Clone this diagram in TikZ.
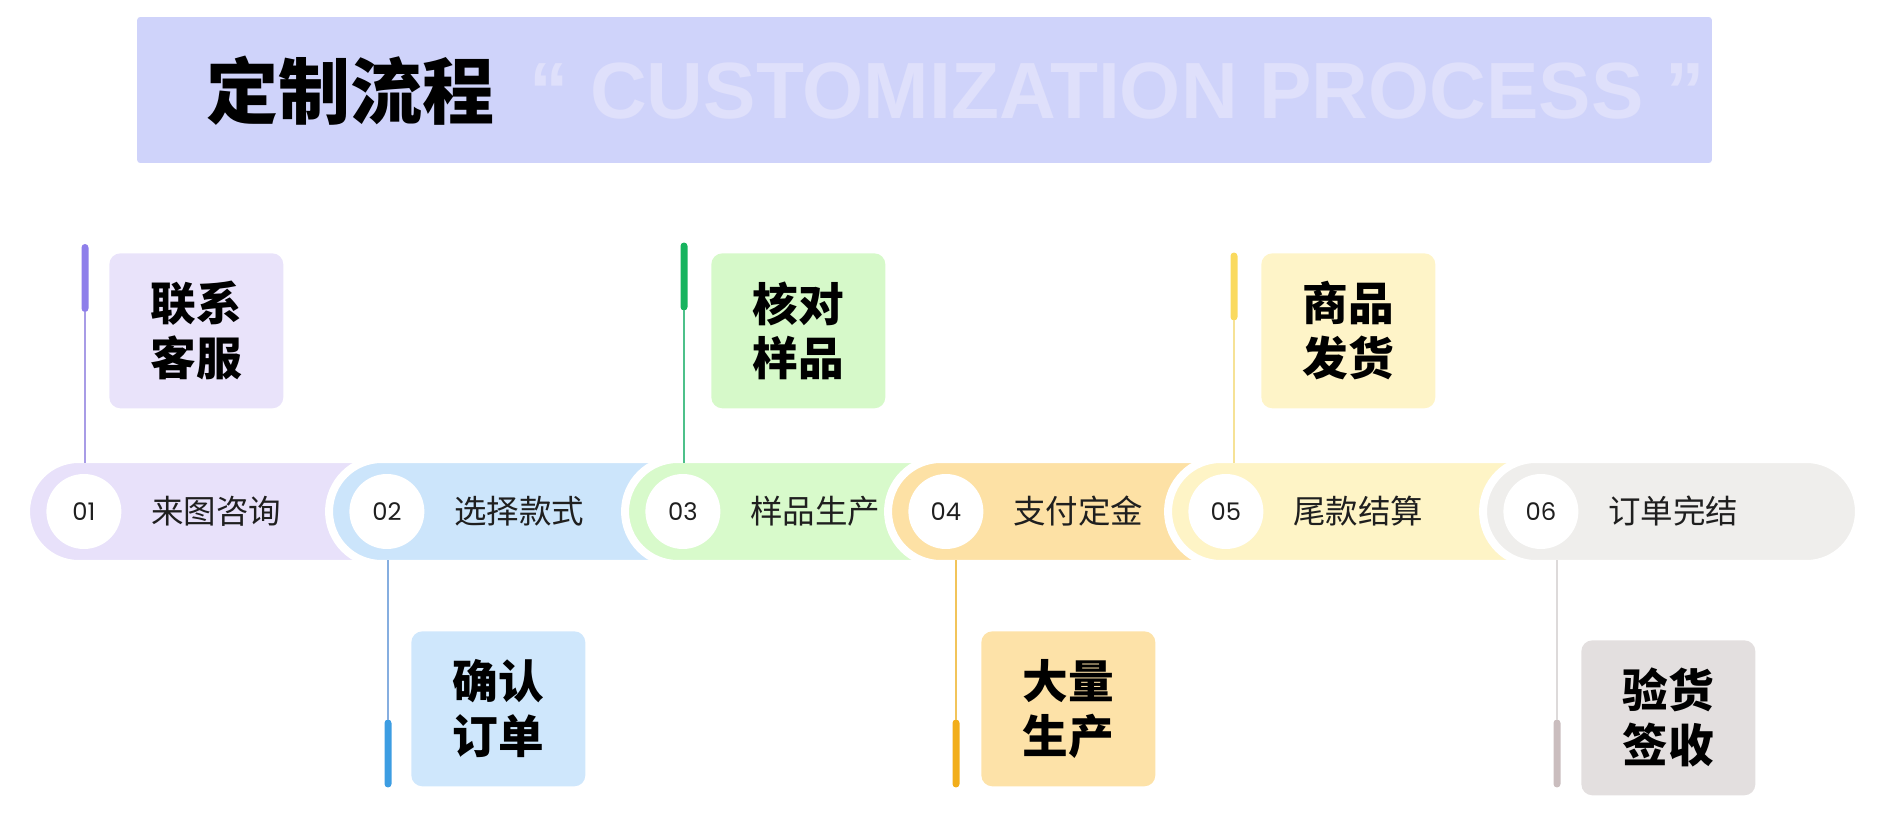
\documentclass[tikz,border=0pt]{standalone}
\usepackage{fontspec}
\setmainfont{Liberation Sans}
\newfontfamily\cjk{Noto Sans CJK SC}
\newfontfamily\numfont{Poppins}
\usetikzlibrary{positioning}

\definecolor{headbg}{HTML}{CFD3FA}
\definecolor{headtxt}{HTML}{DFE0FB}
\definecolor{ink}{HTML}{1F1F1F}
\definecolor{pillA}{HTML}{E8E1FA}
\definecolor{pillB}{HTML}{CCE5FB}
\definecolor{pillC}{HTML}{D8FACB}
\definecolor{pillD}{HTML}{FDE1A5}
\definecolor{pillE}{HTML}{FEF4C6}
\definecolor{pillF}{HTML}{EFEEEC}
\definecolor{cardA}{HTML}{E9E3FA}
\definecolor{cardB}{HTML}{CFE7FC}
\definecolor{cardC}{HTML}{D6F9C9}
\definecolor{cardD}{HTML}{FDE2A8}
\definecolor{cardE}{HTML}{FEF4C8}
\definecolor{cardF}{HTML}{E3DFDF}
\definecolor{barA}{HTML}{8E7EEA}
\definecolor{barB}{HTML}{3D9DE2}
\definecolor{barC}{HTML}{17B35E}
\definecolor{barD}{HTML}{F2AE1A}
\definecolor{barE}{HTML}{FADA5E}
\definecolor{barF}{HTML}{CABDBE}
\definecolor{lineA}{HTML}{A89CE6}
\definecolor{lineB}{HTML}{86AEE0}
\definecolor{lineC}{HTML}{4DC08A}
\definecolor{lineD}{HTML}{F2C45A}
\definecolor{lineE}{HTML}{F6E296}
\definecolor{lineF}{HTML}{DDDADA}

\tikzset{
  header/.style={rectangle, rounded corners=0.06cm, fill=headbg, minimum width=31.5cm, minimum height=2.92cm},
  pill/.style={rectangle, rounded corners=1.05cm, minimum height=2.1cm, draw=white, line width=0.16cm, outer sep=0pt, inner sep=0pt},
  numdot/.style={circle, fill=white, minimum size=1.5cm, inner sep=0pt, text=ink, font=\numfont\fontsize{13.8}{15}\selectfont},
  steplabel/.style={inner sep=0pt, text=ink, font=\cjk\fontsize{18.5}{20}\selectfont},
  card/.style={rectangle, rounded corners=0.22cm, minimum width=3.48cm, minimum height=3.1cm, anchor=north west, align=center, inner sep=0pt, text=black, font=\cjk\bfseries\fontsize{26}{31.2}\selectfont},
  bar/.style={rectangle, rounded corners=0.07cm, minimum width=0.14cm, minimum height=1.36cm, inner sep=0pt, outer sep=0pt},
  tick/.style={line width=0.04cm, shorten >=-0.08cm},
}

\begin{document}
\begin{tikzpicture}[x=0.02cm, y=-0.02cm]
  \useasboundingbox (0,0) rectangle (1883,827);

  % header band
  \node[header] (head) at (924.5,90) {};
  \node[anchor=west, inner sep=0pt, font=\cjk\bfseries\fontsize{41}{44}\selectfont] (title) at (206,91) {定制流程};
  \node[right=0.68cm of title, inner sep=0pt, text=headtxt, font=\bfseries\fontsize{45.4}{48}\selectfont] (eng)
    {\scalebox{0.985}[1]{“ CUSTOMIZATION PROCESS ”}};

  % the six steps
  \node[pill, fill=pillA, minimum width=7.94cm] (p1) at (224.5,511.5) {};
  \node[pill, fill=pillB, minimum width=7.8cm]  (p2) at (524,511.5) {};
  \node[pill, fill=pillC, minimum width=7.14cm] (p3) at (803.5,511.5) {};
  \node[pill, fill=pillD, minimum width=7.48cm] (p4) at (1075,511.5) {};
  \node[pill, fill=pillE, minimum width=8.18cm] (p5) at (1372.5,511.5) {};
  \node[pill, fill=pillF, minimum width=7.52cm] (p6) at (1671,511.5) {};

  \node[numdot, right=0.4cm of p1.west] (n1) {01};
  \node[numdot, right=0.4cm of p2.west] (n2) {02};
  \node[numdot, right=0.4cm of p3.west] (n3) {03};
  \node[numdot, right=0.4cm of p4.west] (n4) {04};
  \node[numdot, right=0.4cm of p5.west] (n5) {05};
  \node[numdot, right=0.4cm of p6.west] (n6) {06};

  \node[steplabel, right=0.58cm of n1] (s1) {来图咨询};
  \node[steplabel, right=0.58cm of n2] (s2) {选择款式};
  \node[steplabel, right=0.58cm of n3] (s3) {样品生产};
  \node[steplabel, right=0.58cm of n4] (s4) {支付定金};
  \node[steplabel, right=0.58cm of n5] (s5) {尾款结算};
  \node[steplabel, right=0.58cm of n6] (s6) {订单完结};

  % cards above and below
  \node[card, fill=cardA] (k1) at (109,253) {联系\\客服};
  \node[card, fill=cardB] (k2) at (411,631) {确认\\订单};
  \node[card, fill=cardC] (k3) at (711,253) {核对\\样品};
  \node[card, fill=cardD] (k4) at (981,631) {大量\\生产};
  \node[card, fill=cardE] (k5) at (1261,253) {商品\\发货};
  \node[card, fill=cardF] (k6) at (1581,640) {验货\\签收};

  \node[bar, fill=barA] (b1) at (85,278) {};
  \node[bar, fill=barB] (b2) at (388,753.5) {};
  \node[bar, fill=barC] (b3) at (684,276.5) {};
  \node[bar, fill=barD] (b4) at (956,753.5) {};
  \node[bar, fill=barE] (b5) at (1234,286.5) {};
  \node[bar, fill=barF] (b6) at (1557,753.5) {};

  \draw[tick, lineA] (b1.south) -- (b1.south |- p1.north);
  \draw[tick, lineB] (b2.north) -- (b2.north |- p2.south);
  \draw[tick, lineC] (b3.south) -- (b3.south |- p3.north);
  \draw[tick, lineD] (b4.north) -- (b4.north |- p4.south);
  \draw[tick, lineE] (b5.south) -- (b5.south |- p5.north);
  \draw[tick, lineF] (b6.north) -- (b6.north |- p6.south);
\end{tikzpicture}
\end{document}
